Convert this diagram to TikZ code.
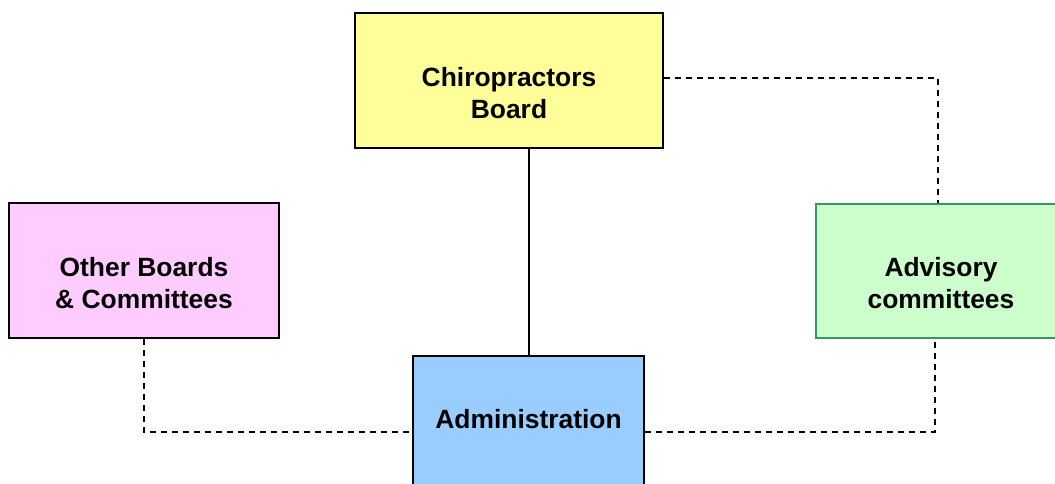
\documentclass[tikz,border=0pt]{standalone}
\usepackage{fontspec}
\setmainfont{Liberation Sans}
\definecolor{boardfill}{HTML}{FFFF99}
\definecolor{otherfill}{HTML}{FFCCFF}
\definecolor{advfill}{HTML}{CCFFCC}
\definecolor{advdraw}{HTML}{339966}
\definecolor{adminfill}{HTML}{99CCFF}
\begin{document}
\begin{tikzpicture}[x=1pt,y=-1pt,
  box/.style={draw=black, line width=1.4pt, rectangle, inner sep=0pt},
  lbl/.style={font=\fontsize{26.4}{32}\selectfont\bfseries, align=center, inner sep=0pt},
  conn/.style={line width=1.4pt},
  dconn/.style={line width=1.4pt, dash pattern=on 6pt off 5pt}]
\useasboundingbox (0,0) rectangle (1055,484);
% boxes
\node[box, fill=boardfill, minimum width=308pt, minimum height=135pt] (board) at (509,80.5) {};
\node[box, fill=otherfill, minimum width=270pt, minimum height=135pt] (other) at (144,270.5) {};
\node[box, draw=advdraw, fill=advfill, minimum width=250pt, minimum height=134pt] (adv) at (941,271) {};
\node[box, fill=adminfill, minimum width=231pt, minimum height=150pt] (admin) at (528.5,431) {};
% texts
\node[lbl] (boardtxt) at (509,93) {Chiropractors\\Board};
\node[lbl] (othertxt) at (144,283) {Other Boards\\\& Committees};
\node[lbl] (advtxt) at (941,283) {Advisory\\committees};
\node[lbl] (admintxt) at (528.5,419) {Administration};
% connectors
\coordinate (c1) at (938,78);
\coordinate (c2) at (144,432);
\coordinate (c3) at (935,432);
\draw[conn] (board.south -| 529,0) -- (admin.north -| 529,0);
\draw[dconn] (board.east |- c1) -- (c1) -- (adv.north -| c1);
\draw[dconn] (other.south -| c2) -- (c2) -- (admin.west |- c2);
\draw[dconn] (admin.east |- c3) -- (c3) -- (adv.south -| c3);
\end{tikzpicture}
\end{document}
